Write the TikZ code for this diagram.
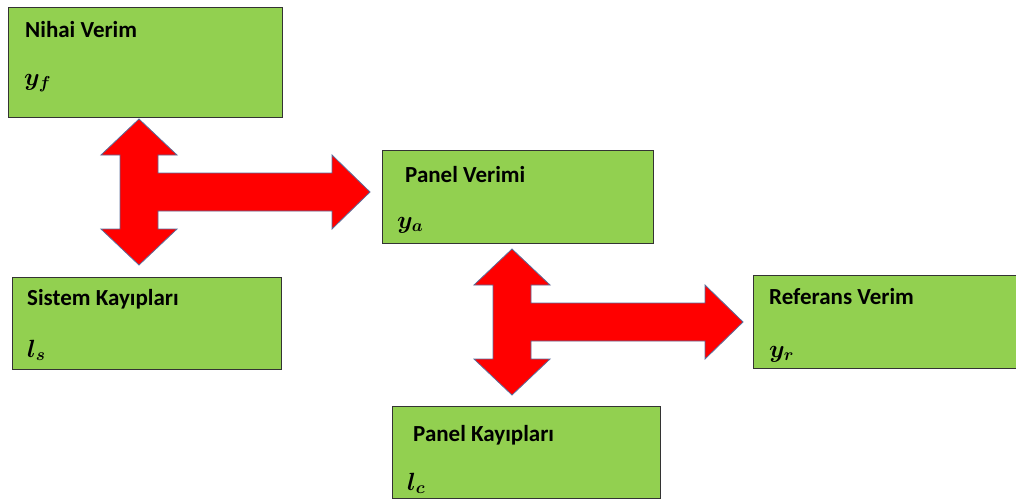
\documentclass[tikz,border=0pt]{standalone}
\usepackage{amsmath,amssymb}
\usepackage{bm}
\usepackage{xcolor}
\usepackage{fontspec}
\setmainfont{Carlito}
\usepackage{tikz}

\definecolor{boxgreen}{HTML}{92D050}
\definecolor{arrowred}{HTML}{FF0000}
\definecolor{arrowedge}{HTML}{5A6E9C}

\tikzset{
  box/.style={rectangle,draw=black!80,line width=1.2pt,fill=boxgreen,anchor=north west,inner sep=0pt},
  title/.style={anchor=base west,inner sep=0pt,font=\fontsize{23}{27}\selectfont\bfseries},
  sym/.style={anchor=base west,inner sep=0pt,font=\fontsize{24}{28}\selectfont},
  tarrow/.pic={
    \draw[fill=arrowred,draw=arrowedge,line width=0.8pt,line join=miter]
      (0,-73) -- (38,-37) -- (19,-37) -- (19,-19) -- (193,-19) -- (193,-37)
      -- (231,0) -- (193,37) -- (193,19) -- (19,19) -- (19,37) -- (38,37)
      -- (0,73) -- (-38,37) -- (-19,37) -- (-19,-37) -- (-38,-37) -- cycle;
  }
}

\begin{document}
\begin{tikzpicture}[x=1pt,y=-1pt]
\useasboundingbox (0,0) rectangle (1016,501);
%
\node[box,minimum width=274pt,minimum height=110pt] (nihai) at (8,7) {};
\node[box,minimum width=271pt,minimum height=93pt] (panelv) at (382,150) {};
\node[box,minimum width=269pt,minimum height=92pt] (sistem) at (12,277) {};
\node[box,minimum width=280pt,minimum height=93pt] (referans) at (753,275) {};
\node[box,minimum width=268pt,minimum height=92pt] (panelk) at (392,406) {};
%
\node[title] (nihaiT) at (25,37) {Nihai Verim};
\node[sym] (nihaiS) at (24,85) {$\bm{y_f}$};
\node[title] (panelvT) at (405,182) {Panel Verimi};
\node[sym] (panelvS) at (397,228) {$\bm{y_a}$};
\node[title] (sistemT) at (27,305) {Sistem Kayıpları};
\node[sym] (sistemS) at (27,357) {$\bm{l_s}$};
\node[title] (referansT) at (769,304) {Referans Verim};
\node[sym] (referansS) at (769,357) {$\bm{y_r}$};
\node[title] (panelkT) at (413,441) {Panel Kayıpları};
\node[sym] (panelkS) at (407,490) {$\bm{l_c}$};
%
\pic at (139,192) {tarrow};
\pic at (512,322) {tarrow};
%
\end{tikzpicture}
\end{document}
